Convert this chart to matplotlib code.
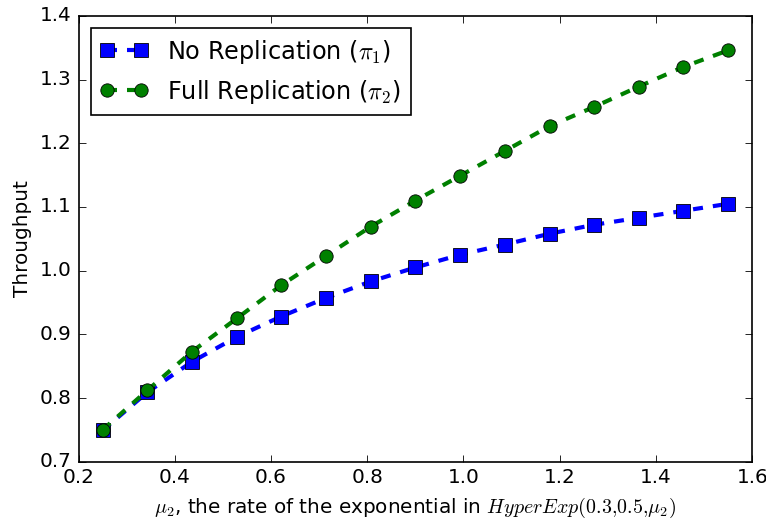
import matplotlib
matplotlib.use("Agg")
import matplotlib.pyplot as plt

plt.style.use("classic")

# rate mu_2 of the exponential
mu2 = [0.25, 0.343, 0.436, 0.529, 0.621, 0.714, 0.807, 0.900,
       0.993, 1.086, 1.179, 1.271, 1.364, 1.457, 1.550]

# throughput, no replication (pi_1)
no_repl = [0.749, 0.809, 0.857, 0.896, 0.928, 0.957, 0.983, 1.005,
           1.025, 1.041, 1.058, 1.072, 1.083, 1.094, 1.105]

# throughput, full replication (pi_2)
full_repl = [0.750, 0.812, 0.873, 0.925, 0.977, 1.023, 1.069, 1.110,
             1.149, 1.188, 1.227, 1.257, 1.289, 1.320, 1.346]

# drawn at 120 dpi so that 766x525 px comes out
fig = plt.figure(figsize=(766 / 120, 525 / 120), dpi=120, facecolor="white")
ax = fig.add_axes([0.1025, 0.1206, 0.8795, 0.849])

ax.plot(mu2, no_repl, "s--", color="blue", lw=2.5, markersize=8,
        label=r"No Replication ($\pi_1$)")
ax.plot(mu2, full_repl, "o--", color="green", lw=2.5, markersize=8,
        label=r"Full Replication ($\pi_2$)")

ax.set_xlim(0.2, 1.6)
ax.set_ylim(0.7, 1.4)
ax.set_xlabel(r"$\mu_2$, the rate of the exponential in $HyperExp(0.3{,}0.5{,}\mu_2)$")
ax.set_ylabel("Throughput")
ax.legend(loc="upper left", numpoints=2, fontsize=14.4)

fig.savefig("out.png", dpi=120, facecolor="white")
